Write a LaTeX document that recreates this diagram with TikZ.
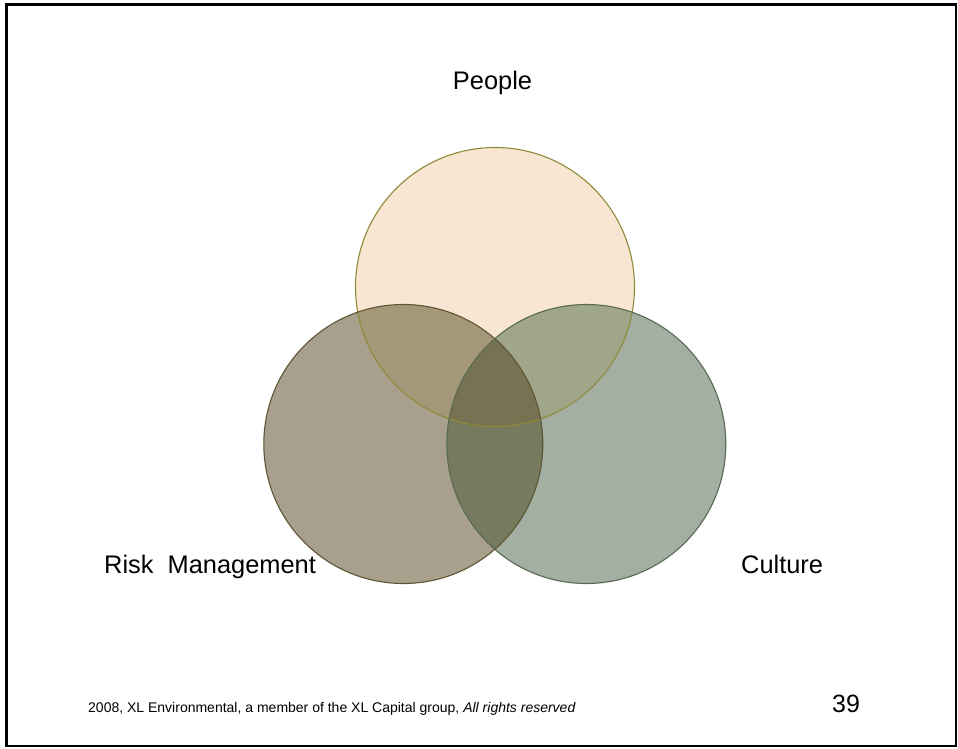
\documentclass[tikz,border=0pt]{standalone}
\usepackage{fontspec}
\setmainfont{Liberation Sans}
\definecolor{ctop}{HTML}{F8E6D2}
\definecolor{cleft}{HTML}{A8A08C}
\definecolor{cright}{HTML}{A3AFA2}
\definecolor{ctl}{HTML}{A59878}
\definecolor{ctr}{HTML}{A0A68A}
\definecolor{clr}{HTML}{767A5E}
\definecolor{call}{HTML}{777352}
\definecolor{stop}{HTML}{8E8A3A}
\definecolor{sleft}{HTML}{5E5634}
\definecolor{sright}{HTML}{586A52}
\tikzset{
  lbl/.style={inner sep=0pt, font=\fontsize{25.4}{30}\selectfont},
  foot/.style={inner sep=0pt, font=\fontsize{14}{17}\selectfont},
  rim/.style={line width=1.1pt}
}
\begin{document}
\begin{tikzpicture}[x=1pt,y=-1pt]
\useasboundingbox (0,0) rectangle (958,748);
\fill[white] (0,0) rectangle (958,748);
\draw[line width=2.6pt] (6.2,4.5) rectangle (956,746);
\def\rr{139.5}
\coordinate (T) at (495,287);
\coordinate (L) at (403.3,444);
\coordinate (R) at (586.3,444);
% base fills
\fill[ctop] (T) circle (\rr);
\fill[cleft] (L) circle (\rr);
\fill[cright] (R) circle (\rr);
% pairwise with top
\begin{scope}
  \clip (T) circle (\rr);
  \fill[ctl] (L) circle (\rr);
  \fill[ctr] (R) circle (\rr);
\end{scope}
% left-right and triple
\begin{scope}
  \clip (L) circle (\rr);
  \fill[clr] (R) circle (\rr);
  \clip (T) circle (\rr);
  \fill[call] (R) circle (\rr);
\end{scope}
% outlines
\draw[rim, stop] (T) circle (\rr);
\draw[rim, sleft] (L) circle (\rr);
\draw[rim, sright] (R) circle (\rr);
% labels
\node[lbl, anchor=base] (people) at (492.5,89) {People};
\node[lbl, anchor=base west] (risk) at (104,573) {Risk\ \ Management};
\node[lbl, anchor=base west] (culture) at (741,573) {Culture};
\node[foot, anchor=base west] (footer) at (88,712) {2008, XL Environmental, a member of the XL Capital group, \textit{All rights reserved}};
\node[inner sep=0pt, font=\fontsize{25}{29}\selectfont, anchor=base west] (page) at (832,712) {39};
\end{tikzpicture}
\end{document}
